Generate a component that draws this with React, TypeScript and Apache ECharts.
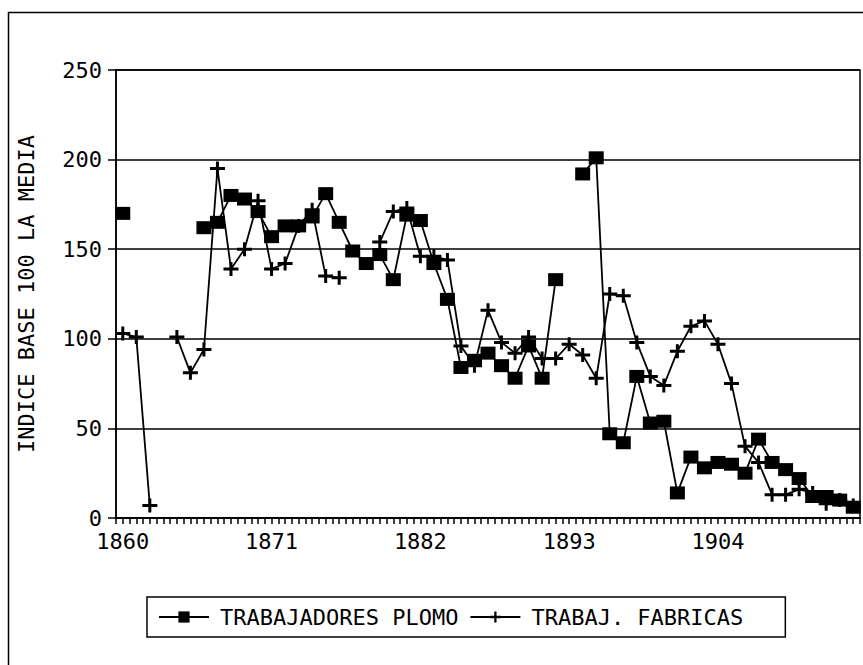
import React, { useEffect, useRef } from "react";
import * as echarts from "echarts";

const years: number[] = [];
for (let y = 1860; y <= 1914; y++) years.push(y);

const xLabelYears = [1860, 1871, 1882, 1893, 1904];

// TRABAJADORES PLOMO, 1860..1914 (null = missing)
const plomo: (number | null)[] = [
  170, null, null, null, null, null, 162, 165, 180, 178,
  171, 157, 163, 163, 168, 181, 165, 149, 142, 147,
  133, 169, 166, 142, 122, 84, 88, 92, 85, 78,
  96, 78, 133, null, 192, 201, 47, 42, 79, 53,
  54, 14, 34, 28, 31, 30, 25, 44, 31, 27,
  22, 12, 12, 10, 6,
];

// TRABAJ. FABRICAS, 1860..1914
const fabricas: (number | null)[] = [
  103, 101, 7, null, 101, 81, 94, 195, 139, 150,
  177, 139, 142, 163, 172, 135, 134, null, null, 154,
  171, 173, 146, 146, 144, 96, 85, 116, 98, 92,
  101, 89, 89, 97, 91, 78, 125, 124, 98, 79,
  74, 93, 107, 110, 97, 75, 40, 31, 13, 13,
  16, 14, 8, 10, 7,
];

const FONT = "DejaVu Sans Mono";
const plusSymbol = "path://M0,5.5H15V8.5H0Z M6,0H9V14H6Z";

const toPairs = (arr: (number | null)[]) =>
  arr.map((v, i) => [years[i], v == null ? "-" : v]);

export default function App() {
  const ref = useRef<HTMLDivElement>(null);
  useEffect(() => {
    if (!ref.current) return;
    const chart = echarts.init(ref.current, undefined, { renderer: "svg" });
    chart.setOption({
      animation: false,
      backgroundColor: "#fff",
      grid: {
        left: 116,
        right: 3,
        top: 70,
        bottom: 147,
        show: true,
        borderColor: "#000",
        borderWidth: 1.5,
      },
      graphic: [
        {
          type: "rect",
          shape: { x: 8.5, y: 12.5, width: 900, height: 700 },
          style: { fill: "none", stroke: "#000", lineWidth: 1.5 },
          silent: true,
        },
      ],
      legend: {
        left: 147,
        top: 597,
        padding: [9, 42, 9, 11],
        borderColor: "#000",
        borderWidth: 1.5,
        itemWidth: 50,
        itemHeight: 14,
        itemGap: 11,
        textStyle: { fontFamily: FONT, fontSize: 22, color: "#000", padding: [0, 0, 0, 6] },
        data: ["TRABAJADORES PLOMO", "TRABAJ. FABRICAS"],
      },
      xAxis: {
        type: "value",
        min: 1859.5,
        max: 1914.5,
        interval: 0.5,
        splitLine: { show: false },
        axisLine: { show: true, onZero: false, lineStyle: { color: "#000", width: 2 } },
        axisTick: { show: true, length: 6, lineStyle: { color: "#000", width: 1.5 } },
        axisLabel: {
          margin: 12,
          fontFamily: FONT,
          fontSize: 22,
          color: "#000",
          formatter: (v: number) =>
            xLabelYears.some((y) => Math.abs(y - v) < 1e-6) ? String(Math.round(v)) : "",
        },
      },
      yAxis: {
        type: "value",
        min: 0,
        max: 250,
        interval: 50,
        name: "INDICE BASE 100 LA MEDIA",
        nameLocation: "middle",
        nameRotate: 90,
        nameGap: 79,
        nameTextStyle: { fontFamily: FONT, fontSize: 22, color: "#000" },
        axisLine: { show: true, lineStyle: { color: "#000", width: 1.5 } },
        axisTick: { show: true, length: 8, lineStyle: { color: "#000", width: 1.5 } },
        splitLine: { show: true, lineStyle: { color: "#000", width: 1.5 } },
        axisLabel: { margin: 14, fontFamily: FONT, fontSize: 22, color: "#000" },
      },
      series: [
        {
          name: "TRABAJ. FABRICAS",
          type: "line",
          data: toPairs(fabricas),
          symbol: plusSymbol,
          symbolSize: [15, 14],
          connectNulls: false,
          lineStyle: { color: "#000", width: 1.8 },
          itemStyle: { color: "#000" },
          z: 2,
        },
        {
          name: "TRABAJADORES PLOMO",
          type: "line",
          data: toPairs(plomo),
          symbol: "rect",
          symbolSize: [15, 13],
          connectNulls: false,
          lineStyle: { color: "#000", width: 1.8 },
          itemStyle: { color: "#000" },
          z: 3,
        },
      ],
    });
    return () => chart.dispose();
  }, []);
  return (
    <div
      ref={ref}
      style={{ position: "fixed", left: 0, top: 0, width: 863, height: 665, background: "#fff" }}
    />
  );
}
